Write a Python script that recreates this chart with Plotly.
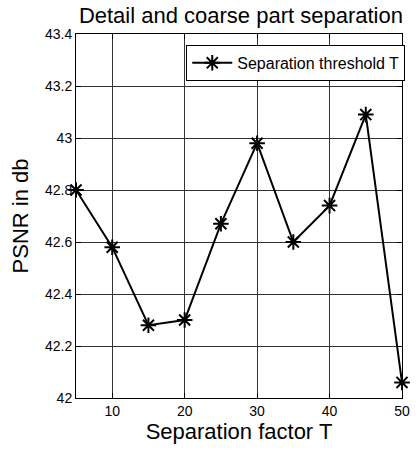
import plotly.graph_objects as go

separation_factor = [5, 10, 15, 20, 25, 30, 35, 40, 45, 50]
psnr_db = [42.80, 42.58, 42.28, 42.30, 42.67, 42.98, 42.60, 42.74, 43.09, 42.06]
x_ticks = [10, 20, 30, 40, 50]
y_ticks = [42.0, 42.2, 42.4, 42.6, 42.8, 43.0, 43.2, 43.4]
y_tick_labels = ["42", "42.2", "42.4", "42.6", "42.8", "43", "43.2", "43.4"]

font_family = "Liberation Sans, Arial, sans-serif"

fig = go.Figure()
fig.add_trace(go.Scatter(
    x=separation_factor, y=psnr_db,
    mode="lines+markers",
    name="Separation threshold T",
    line=dict(color="black", width=2),
    marker=dict(symbol="asterisk-open", size=13, color="black",
                line=dict(color="black", width=2)),
    cliponaxis=False,
))

axis_common = dict(
    showline=True, linecolor="black", linewidth=1, mirror="ticks",
    ticks="inside", ticklen=5, tickcolor="black",
    showgrid=True, gridcolor="#333333", gridwidth=1,
    zeroline=False,
    tickfont=dict(family=font_family, size=14, color="black"),
)

fig.update_layout(
    width=419, height=452,
    margin=dict(l=76, r=9, t=34, b=54),
    paper_bgcolor="white", plot_bgcolor="white",
    title=dict(text="Detail and coarse part separation",
               font=dict(family=font_family, size=22, color="black"),
               x=0.575, xanchor="center", y=0.966, yanchor="middle"),
    xaxis=dict(range=[5, 50], tickvals=x_ticks,
               title=dict(text="Separation factor T", standoff=5,
                          font=dict(family=font_family, size=22, color="black")),
               **axis_common),
    yaxis=dict(range=[42, 43.4], tickvals=y_ticks, ticktext=y_tick_labels,
               title=dict(text="PSNR in db", standoff=10,
                          font=dict(family=font_family, size=22, color="black")),
               **axis_common),
    showlegend=True,
    legend=dict(x=1.01, y=0.97, xanchor="right", yanchor="top",
                bgcolor="white", bordercolor="black", borderwidth=1,
                font=dict(family=font_family, size=16, color="black"),
                itemwidth=40, tracegroupgap=0),
)

fig.write_html("out.html")
